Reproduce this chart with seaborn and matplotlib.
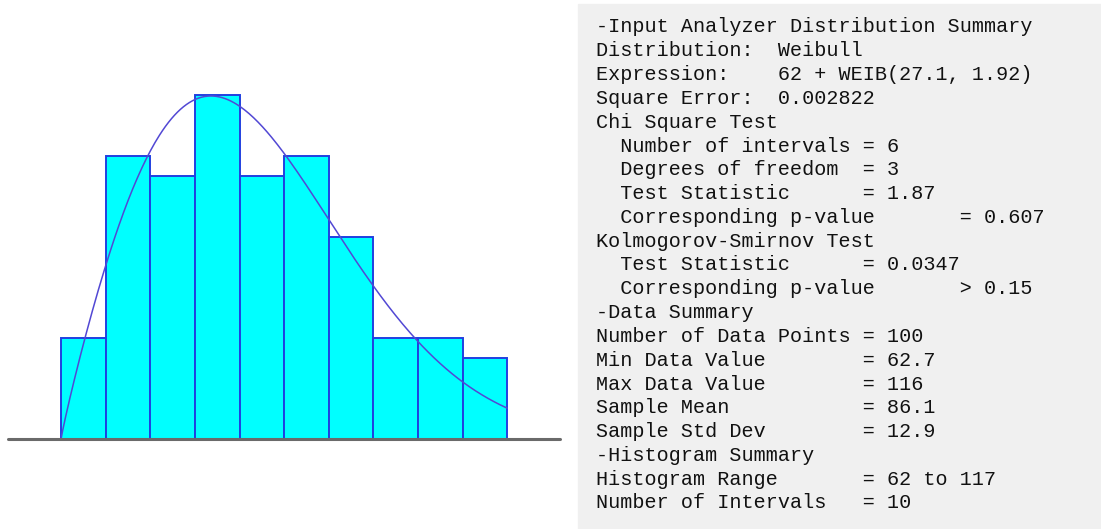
import numpy as np
import pandas as pd
import matplotlib
matplotlib.use("Agg")
import matplotlib.pyplot as plt
import seaborn as sns

# histogram data
hist_range = (62, 117)
n_bins = 10
counts = [5, 14, 13, 17, 13, 14, 10, 5, 5, 4]
n_points = 100

# fitted distribution: 62 + WEIB(27.1, 1.92)
weib_offset = 62
weib_scale = 27.1
weib_shape = 1.92

summary_lines = [
    "-Input Analyzer Distribution Summary",
    "Distribution:  Weibull",
    "Expression:    62 + WEIB(27.1, 1.92)",
    "Square Error:  0.002822",
    "Chi Square Test",
    "  Number of intervals = 6",
    "  Degrees of freedom  = 3",
    "  Test Statistic      = 1.87",
    "  Corresponding p-value       = 0.607",
    "Kolmogorov-Smirnov Test",
    "  Test Statistic      = 0.0347",
    "  Corresponding p-value       > 0.15",
    "-Data Summary",
    "Number of Data Points = 100",
    "Min Data Value        = 62.7",
    "Max Data Value        = 116",
    "Sample Mean           = 86.1",
    "Sample Std Dev        = 12.9",
    "-Histogram Summary",
    "Histogram Range       = 62 to 117",
    "Number of Intervals   = 10",
]

sns.set_style("white")

W, H = 1101, 529
fig = plt.figure(figsize=(W / 100, H / 100), dpi=100)

# left panel - histogram with fitted curve
ax = fig.add_axes([8 / W, (H - 439) / H, 552 / W, 364 / H])
bin_width = (hist_range[1] - hist_range[0]) / n_bins
mids = hist_range[0] + bin_width * (np.arange(n_bins) + 0.5)
hist_df = pd.DataFrame({"mid": mids, "count": counts})
sns.histplot(data=hist_df, x="mid", weights="count", bins=n_bins, binrange=hist_range,
             ax=ax, color="#00ffff", edgecolor="#2040e0", linewidth=1.4, alpha=1)

xs = np.linspace(weib_offset, hist_range[1], 300)
z = (xs - weib_offset) / weib_scale
pdf = (weib_shape / weib_scale) * z ** (weib_shape - 1) * np.exp(-z ** weib_shape)
sns.lineplot(x=xs, y=pdf * n_points * bin_width, ax=ax, color="#5248d4", linewidth=1.1)

ax.axhline(0, color="#6a6a6a", linewidth=2.2, clip_on=False, zorder=5)
ax.set_xlim(55.46, 123.5)
ax.set_ylim(0, 18)
ax.set_axis_off()

# right panel - summary text box
fig.patches.append(plt.Rectangle((578 / W, 0), 1 - 578 / W, (H - 4) / H,
                                 transform=fig.transFigure, color="#f0f0f0", zorder=0))
for i, line in enumerate(summary_lines):
    y = 27 + i * 23.8
    fig.text(596 / W, 1 - y / H, line, family="Liberation Mono", fontsize=14.5,
             va="center", ha="left", color="#111111")

fig.savefig("out.png", dpi=100)
